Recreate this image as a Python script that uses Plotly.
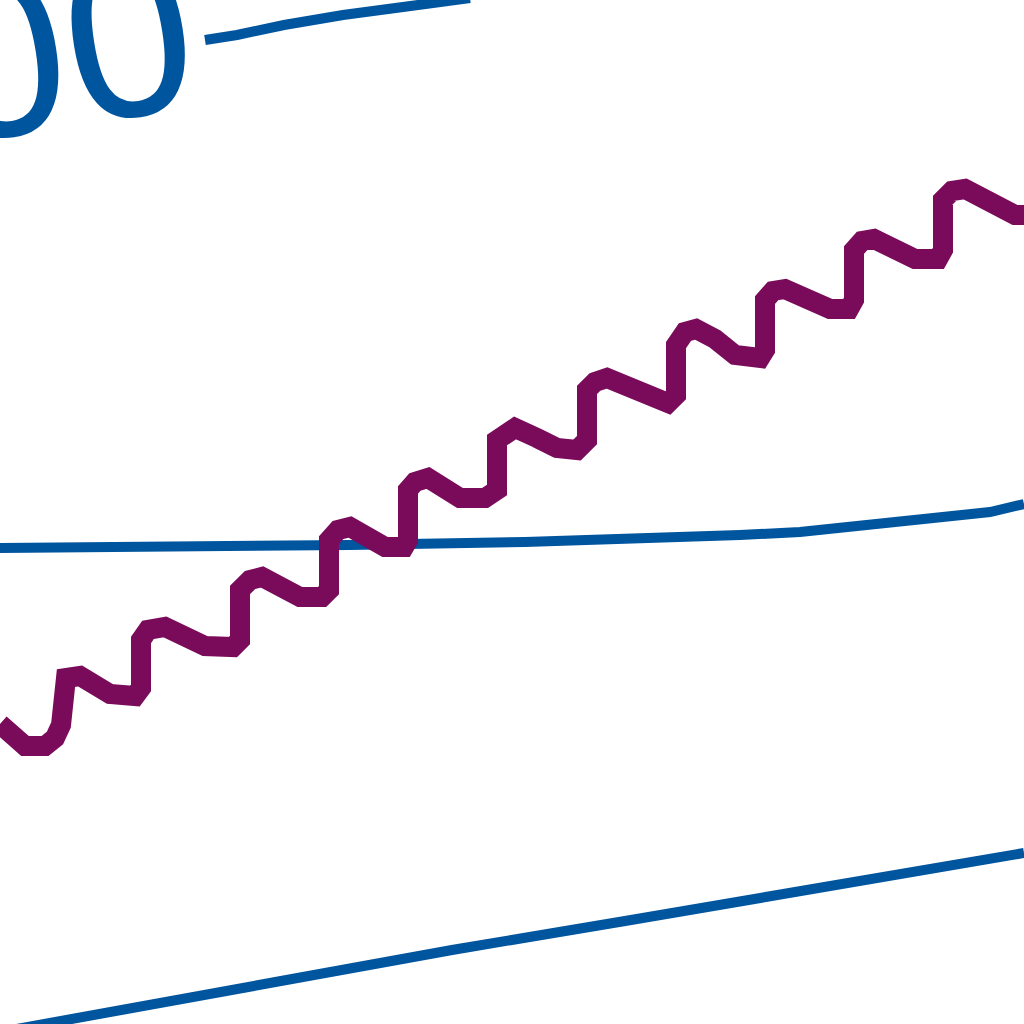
import plotly.graph_objects as go

# ---- data (x: horizontal position units, y: value units) ----
purple_x = [0, 1.2, 2.5, 4.5, 5.5, 6.1, 6.1, 6.6, 8.0, 9.5, 11.0, 13.5,
            14.1, 14.1, 14.8, 16.5, 18.5, 20.5, 23.3,
            24.0, 24.0, 25.0, 26.2, 28.5, 30.0, 32.2,
            32.9, 32.9, 33.8, 35.0, 36.5, 38.5, 40.4,
            40.8, 40.8, 41.5, 42.8, 44.5, 46.0, 48.5,
            49.7, 49.7, 50.5, 51.5, 53.7, 55.7, 57.7,
            58.7, 58.7, 59.5, 60.7, 62.7, 65.0, 66.8,
            67.6, 67.6, 68.5, 69.6, 71.5, 73.5, 76.0,
            76.5, 76.5, 77.3, 78.5, 81.0, 83.0, 84.9,
            85.4, 85.4, 86.2, 87.4, 89.4, 91.5, 93.8,
            94.3, 94.3, 95.2, 96.5, 98.3, 100.5, 101.5,
            103.4, 103.4]
purple_y = [30.0, 29.0, 27.8, 27.8, 28.6, 29.9, 33.4, 34.6, 34.8, 34.0, 33.0, 32.8,
            33.6, 38.4, 39.4, 39.7, 38.8, 37.8, 37.7,
            38.4, 43.4, 44.4, 44.7, 43.6, 42.7, 42.7,
            43.4, 48.4, 49.4, 49.7, 48.6, 47.7, 47.7,
            48.4, 53.4, 54.2, 54.6, 53.4, 52.6, 52.6,
            53.4, 58.4, 59.2, 59.6, 58.6, 57.6, 57.4,
            58.4, 63.4, 64.2, 64.6, 63.6, 62.6, 62.1,
            62.9, 67.9, 69.2, 69.5, 68.5, 66.9, 66.6,
            67.4, 72.4, 73.3, 73.5, 72.5, 71.5, 71.5,
            72.4, 77.4, 78.3, 78.5, 77.5, 76.5, 76.5,
            77.4, 82.4, 83.3, 83.5, 82.5, 81.5, 80.9,
            80.9, 87.4]

mid_x = [0, 17.5, 35.0, 52.5, 65.0, 74.0, 80.0, 87.5, 91.5, 95.5, 99.0, 102.4]
mid_y = [47.6, 47.7, 47.9, 48.2, 48.5, 48.9, 49.2, 49.9, 50.3, 50.8, 51.2, 52.0]

top_x = [20.5, 23.7, 28.4, 34.3, 41.8, 47.0]
top_y = [98.4, 98.9, 99.9, 100.9, 101.9, 102.6]

low_x = [0, 6.6, 24.0, 45.2, 63.1, 81.0, 98.8, 102.4]
low_y = [-0.8, 0.4, 3.4, 7.4, 10.4, 13.4, 16.4, 17.1]

label_text = "00"

BLUE = "#00559f"
PURPLE = "#7a0a5a"

fig = go.Figure()
fig.add_trace(go.Scatter(x=low_x, y=low_y, mode="lines",
                         line=dict(color=BLUE, width=10), hoverinfo="skip"))
fig.add_trace(go.Scatter(x=mid_x, y=mid_y, mode="lines",
                         line=dict(color=BLUE, width=10), hoverinfo="skip"))
fig.add_trace(go.Scatter(x=top_x, y=top_y, mode="lines",
                         line=dict(color=BLUE, width=10), hoverinfo="skip"))
fig.add_trace(go.Scatter(x=purple_x, y=purple_y, mode="lines",
                         line=dict(color=PURPLE, width=20), hoverinfo="skip"))

fig.add_annotation(text=label_text, xref="paper", yref="paper",
                   x=0.0635, y=0.955, xanchor="center", yanchor="middle",
                   showarrow=False, textangle=-9,
                   font=dict(family="Liberation Sans, Arial", size=230, color=BLUE))

fig.update_layout(
    width=1024, height=1024, autosize=False,
    margin=dict(l=0, r=0, t=0, b=0, pad=0),
    paper_bgcolor="white", plot_bgcolor="white",
    showlegend=False,
    xaxis=dict(range=[0, 102.4], visible=False, fixedrange=True),
    yaxis=dict(range=[0, 102.4], visible=False, fixedrange=True),
)

fig.write_html("out.html", config={"displayModeBar": False},
               post_script="document.body.style.margin='0';document.body.style.overflow='hidden';")
